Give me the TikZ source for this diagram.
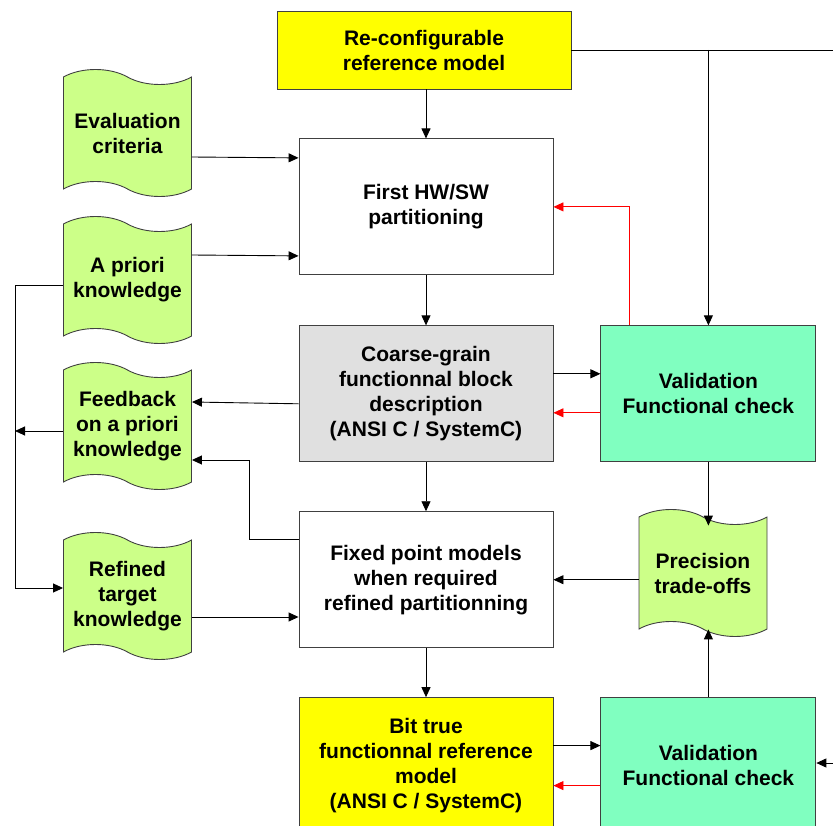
\documentclass[tikz,border=0pt]{standalone}
\usepackage{fontspec}
\setmainfont{Liberation Sans}
\usetikzlibrary{arrows.meta,positioning,calc,shapes.symbols}
\definecolor{modelyellow}{RGB}{255,255,0}
\definecolor{docgreen}{RGB}{204,255,136}
\definecolor{checkgreen}{RGB}{128,255,192}
\definecolor{coarsegray}{RGB}{224,224,224}
\definecolor{rimgray}{RGB}{64,64,64}
\newcommand{\boxfont}{\bfseries\fontsize{21}{25}\selectfont}

\begin{document}
\begin{tikzpicture}[x=1pt,y=-1pt,
  b/.style={draw=rimgray,line width=0.9pt,align=center,inner sep=0pt,font=\boxfont,
    minimum width=254pt,minimum height=136pt,fill=white},
  chk/.style={b,fill=checkgreen,minimum width=215pt},
  doc/.style={tape,tape bend top=out and in,tape bend bottom=out and in,tape bend height=15pt,
    draw=rimgray,fill=docgreen,line width=0.9pt,align=center,inner sep=0pt,font=\boxfont,
    minimum width=128pt,minimum height=127pt},
  ar/.style={-{Triangle[length=10pt,width=9pt]},line width=0.9pt},
  rar/.style={ar,red}]
\useasboundingbox (0,0) rectangle (833,826);
\node[b,fill=modelyellow,minimum width=294pt,minimum height=78pt] (reconf) at (424,50)
  {Re-configurable\\reference model};
\node[b,below=49pt of reconf,xshift=2pt] (first) {First HW/SW\\partitioning};
\node[b,fill=coarsegray,below=50pt of first] (coarse)
  {Coarse-grain\\functionnal block\\description\\(ANSI C / SystemC)};
\node[b,below=49pt of coarse] (fixed) {Fixed point models\\when required\\refined partitionning};
\node[b,fill=modelyellow,below=49pt of fixed] (bit)
  {Bit true\\functionnal reference\\model\\(ANSI C / SystemC)};
\node[chk,right=47pt of coarse] (valid) {Validation\\Functional check};
\node[chk,right=47pt of bit] (validb) {Validation\\Functional check};
\node[doc] (eval) at (127.5,133) {Evaluation\\criteria};
\node[doc] (apriori) at (127.5,280) {A priori\\knowledge};
\node[doc] (feedback) at (127.5,426) {Feedback\\on a priori\\knowledge};
\node[doc] (refined) at (127.5,596) {Refined\\target\\knowledge};
\node[doc] (prec) at (703,573) {Precision\\trade-offs};
\coordinate (edgeA) at (833,50);
\coordinate (edgeB) at (833,763);
\coordinate (busA) at (15,431);
\coordinate (busB) at (15,588);
\coordinate (fbk) at (249,460);
\draw[line width=0.9pt] (reconf.east) -- (edgeA);
\draw[ar] (valid.north |- reconf.east) -- (valid.north);
\draw[ar] (reconf.south -| first.north) -- (first.north);
\draw[ar] ([yshift=-24pt]eval.east) -- ([yshift=49pt]first.west);
\draw[ar] ([yshift=25pt]apriori.east) -- ([yshift=-49pt]first.west);
\draw[ar] (first.south) -- (coarse.north);
\draw[ar] (coarse.south) -- (fixed.north);
\draw[ar] (fixed.south) -- (bit.north);
\draw[ar] ([yshift=-10pt]coarse.west) -- (feedback.east |- 0,402);
\draw[ar] ([yshift=20pt]coarse.east) -- ([yshift=20pt]valid.west);
\draw[rar] ([yshift=-19pt]valid.west) -- ([yshift=-19pt]coarse.east);
\draw[rar] ([xshift=29pt]valid.north west) |- (first.east);
\draw[ar] ([yshift=-5pt]apriori.west) -| (busB) -- (refined.west |- busB);
\draw[ar] ([yshift=-5pt]feedback.west) -- (busA);
\draw[ar] ([yshift=40pt]fixed.west) -| (fbk) -- (feedback.east |- fbk);
\draw[ar] (refined.east |- 0,617) -- (fixed.west |- 0,617);
\draw[ar] (valid.south) -- ($(valid.south |- prec.north)+(0,9)$);
\draw[ar] (prec.west |- fixed.east) -- (fixed.east);
\draw[ar] (validb.north) -- (validb.north |- prec.south);
\draw[ar] ([yshift=20pt]bit.east) -- ([yshift=20pt]validb.west);
\draw[rar] ([yshift=-20pt]validb.west) -- ([yshift=-20pt]bit.east);
\draw[ar] (edgeB) -- (validb.east |- edgeB);
\end{tikzpicture}
\end{document}
